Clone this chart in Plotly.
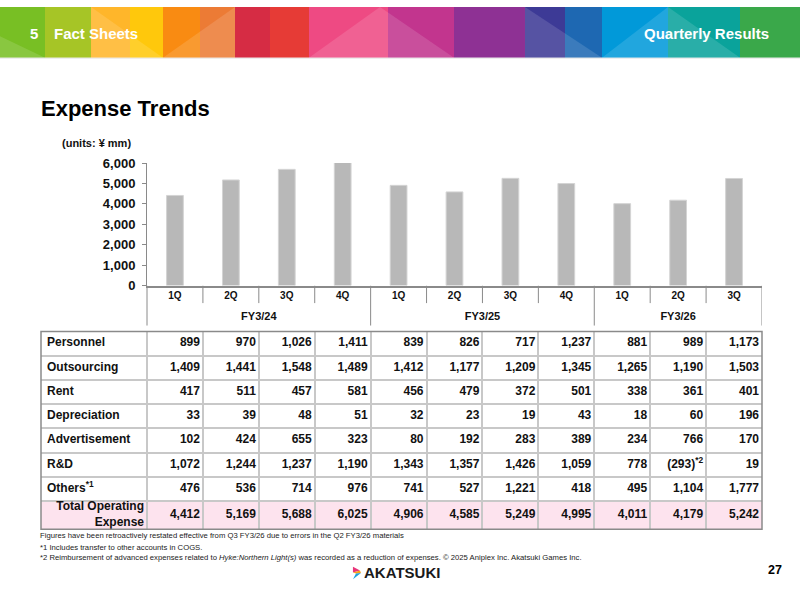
import plotly.graph_objects as go
import numpy as np

# ---------------- data ----------------
quarters = ["1Q", "2Q", "3Q", "4Q", "1Q", "2Q", "3Q", "4Q", "1Q", "2Q", "3Q"]
fiscal_years = ["FY3/24"] * 4 + ["FY3/25"] * 4 + ["FY3/26"] * 3

row_labels = ["Personnel", "Outsourcing", "Rent", "Depreciation",
              "Advertisement", "R&D", "Others<sup>*1</sup>"]
personnel = [899, 970, 1026, 1411, 839, 826, 717, 1237, 881, 989, 1173]
outsourcing = [1409, 1441, 1548, 1489, 1412, 1177, 1209, 1345, 1265, 1190, 1503]
rent = [417, 511, 457, 581, 456, 479, 372, 501, 338, 361, 401]
depreciation = [33, 39, 48, 51, 32, 23, 19, 43, 18, 60, 196]
advertisement = [102, 424, 655, 323, 80, 192, 283, 389, 234, 766, 170]
rnd = [1072, 1244, 1237, 1190, 1343, 1357, 1426, 1059, 778, -293, 19]
others = [476, 536, 714, 976, 741, 527, 1221, 418, 495, 1104, 1777]
total_label = "Total Operating<br>Expense"
total_opex = [4412, 5169, 5688, 6025, 4906, 4585, 5249, 4995, 4011, 4179, 5242]
cell_notes = {(5, 9): "*2"}  # (row, column) -> footnote mark

rows = [personnel, outsourcing, rent, depreciation, advertisement, rnd, others]

FONT = "Liberation Sans"
W, H = 800, 600


def px(x):
    return x / W


def py(y):
    return 1 - y / H


def fmt(v):
    return "({:,})".format(-v) if v < 0 else "{:,}".format(v)


fig = go.Figure()

# ---------------- bar chart ----------------
fig.add_trace(go.Bar(
    x=[fiscal_years, quarters], y=total_opex,
    marker=dict(color="#b8b8b8", line=dict(color="#d4d4d4", width=1)),
    hoverinfo="skip", showlegend=False,
))

# ---------------- table (text through x2/y2 scales) ----------------
ncol = len(quarters)
colw = (762 - 147) / ncol
label_w = 106 / colw  # label column width in column units
x_left = -0.5 - label_w
row_unit = 174 / 7
total_h = 29 / row_unit
y_max = 7 + total_h
pad_r = 3 / colw
pad_l = 6 / colw
head_h = 332.7 - 285.7

col_idx = np.arange(ncol)
col_x = col_idx + 0.5 - pad_r
tfont = dict(family=FONT, size=12, color="#111111", weight="bold")

for r, vals in enumerate(rows):
    txt = []
    for c, v in enumerate(vals):
        s = fmt(v)
        if (r, c) in cell_notes:
            s += "<sup>" + cell_notes[(r, c)] + "</sup>"
        txt.append(s)
    fig.add_trace(go.Scatter(
        x=col_x, y=[r + 0.5] * ncol, text=txt, mode="text",
        textposition="middle left", textfont=tfont,
        xaxis="x2", yaxis="y2", hoverinfo="skip", showlegend=False,
        cliponaxis=False,
    ))

fig.add_trace(go.Scatter(
    x=col_x, y=[7 + total_h / 2] * ncol, text=[fmt(v) for v in total_opex],
    mode="text", textposition="middle left", textfont=tfont,
    xaxis="x2", yaxis="y2", hoverinfo="skip", showlegend=False, cliponaxis=False,
))
fig.add_trace(go.Scatter(
    x=[x_left + pad_l] * len(row_labels), y=[r + 0.5 for r in range(len(row_labels))],
    text=row_labels, mode="text", textposition="middle right", textfont=tfont,
    xaxis="x2", yaxis="y2", hoverinfo="skip", showlegend=False, cliponaxis=False,
))
fig.add_trace(go.Scatter(
    x=[-0.5 - pad_r], y=[7 + total_h / 2], text=[total_label], mode="text",
    textposition="middle left", textfont=tfont,
    xaxis="x2", yaxis="y2", hoverinfo="skip", showlegend=False, cliponaxis=False,
))

# ---------------- category header (quarters / fiscal years) ----------------
fig.add_trace(go.Scatter(
    x=col_idx, y=[11.3] * ncol, text=quarters, mode="text", textposition="middle center",
    textfont=dict(family=FONT, size=10, color="#111111", weight="bold"),
    xaxis="x3", yaxis="y3", hoverinfo="skip", showlegend=False, cliponaxis=False,
))
fy_unique = list(dict.fromkeys(fiscal_years))
fy_pos = [float(np.mean([i for i, f in enumerate(fiscal_years) if f == u])) for u in fy_unique]
fig.add_trace(go.Scatter(
    x=fy_pos, y=[32.3] * len(fy_unique), text=fy_unique, mode="text",
    textposition="middle center",
    textfont=dict(family=FONT, size=11, color="#111111", weight="bold"),
    xaxis="x3", yaxis="y3", hoverinfo="skip", showlegend=False, cliponaxis=False,
))

shapes = []
for b in range(ncol + 1):
    edge = b - 0.5
    is_group = b == 0 or b == ncol or fiscal_years[b] != fiscal_years[b - 1]
    shapes.append(dict(type="line", xref="x3", yref="y3", x0=edge, x1=edge,
                       y0=0, y1=41 if is_group else 18,
                       line=dict(color="#8a8a8a", width=1)))

# pink total row
shapes.append(dict(type="rect", xref="x2", yref="y2", x0=x_left, x1=ncol - 0.5,
                   y0=7, y1=y_max, fillcolor="#fde3ee", line=dict(width=0), layer="below"))
# table outer border
shapes.append(dict(type="rect", xref="x2 domain", yref="y2 domain", x0=0, x1=1, y0=0, y1=1,
                   line=dict(color="#8a8a8a", width=1.5), layer="above"))

# ---------------- header banner ----------------
banner = [
    (0, 45, "#78bf24"), (45, 91, "#a6c526"), (91, 130, "#ffb62a"), (130, 163, "#ffc80c"),
    (163, 200, "#f98b12"), (200, 235, "#ec7b35"), (235, 270, "#d62c44"), (270, 309, "#e63b36"),
    (309, 388, "#ee4a83"), (388, 454, "#c2358e"), (454, 525, "#8e3194"), (525, 565, "#3d3a96"),
    (565, 602, "#1e68b2"), (602, 668, "#0199d9"), (668, 740, "#0aa39b"), (740, 800, "#3aa84a"),
]
for x0, x1, col in banner:
    shapes.append(dict(type="rect", xref="paper", yref="paper", x0=px(x0), x1=px(x1),
                       y0=py(52), y1=py(0), fillcolor=col, line=dict(width=0), layer="above"))
# diagonal facets
facets = [
    [(91, 0), (163, 52), (91, 52)], [(163, 52), (235, 0), (235, 52)],
    [(309, 52), (380, 0), (454, 52)], [(525, 0), (602, 52), (525, 52)],
    [(602, 52), (668, 0), (740, 52)], [(0, 30), (45, 52), (0, 52)],
]
for pts in facets:
    path = "M " + " L ".join("{:.4f},{:.4f}".format(px(a), py(b)) for a, b in pts) + " Z"
    shapes.append(dict(type="path", xref="paper", yref="paper", path=path,
                       fillcolor="rgba(255,255,255,0.13)", line=dict(width=0), layer="above"))
shapes.append(dict(type="line", xref="paper", yref="paper", x0=0, x1=1, y0=py(52.5), y1=py(52.5),
                   line=dict(color="#e6e6e6", width=1), layer="above"))

# logo icon
logo = [
    ([(353, 574), (360, 578), (353, 580)], "#e9357a"),
    ([(353, 580), (360, 578), (361, 580.5), (356, 581)], "#f7a21b"),
    ([(356, 581), (361, 580.5), (353, 587)], "#1da1dc"),
]
for pts, col in logo:
    path = "M " + " L ".join("{:.4f},{:.4f}".format(px(a), py(b)) for a, b in pts) + " Z"
    shapes.append(dict(type="path", xref="paper", yref="paper", path=path,
                       fillcolor=col, line=dict(width=0), layer="above"))

# ---------------- annotations ----------------
ann = []


def add_text(x, y, text, size, color="#111111", xanchor="left", bold=True, family=FONT):
    ann.append(dict(x=px(x), y=py(y), xref="paper", yref="paper", text=text, showarrow=False,
                    xanchor=xanchor, yanchor="middle",
                    font=dict(family=family, size=size, color=color,
                              weight="bold" if bold else "normal")))


add_text(28, 27, "5", 15, "white")
add_text(52, 27, "Fact Sheets", 15, "white")
add_text(771, 27, "Quarterly Results", 15, "white", xanchor="right")
add_text(39, 104, "Expense Trends", 22, "#000000")
add_text(60, 139, "(units: ¥ mm)", 11)
add_text(38, 542, "Figures have been retroactively restated effective from Q3 FY3/26 due to errors in the Q2 FY3/26 materials",
         7.7, "#222222", bold=False)
add_text(38, 554, "*1 Includes transfer to other accounts in COGS.", 7.7, "#222222", bold=False)
add_text(38, 565, "*2 Reimbursement of advanced expenses related to <i>Hyke:Northern Light(s)</i> was recorded as a reduction of expenses. © 2025 Aniplex Inc. Akatsuki Games Inc.",
         7.7, "#222222", bold=False)
add_text(362, 580.5, "AKATSUKI", 15, "#1a1a1a")
add_text(784, 577, "27", 12.5, "#000000", xanchor="right")

fig.update_layout(
    width=W, height=H, autosize=False,
    margin=dict(l=0, r=0, t=0, b=0),
    paper_bgcolor="white", plot_bgcolor="white",
    bargap=0.70,
    shapes=shapes, annotations=ann,
    xaxis=dict(
        domain=[px(147), px(762)], anchor="y", type="multicategory",
        showline=True, linecolor="#8a8a8a", linewidth=1.5,
        showticklabels=False, ticks="", showdividers=False,
        showgrid=False, zeroline=False, fixedrange=True,
    ),
    yaxis=dict(
        domain=[py(285.7), py(160)], anchor="x", range=[0, 6000], dtick=1000,
        tickformat=",", showline=True, linecolor="#8a8a8a", linewidth=1,
        ticks="outside", ticklen=4, tickcolor="#8a8a8a", ticklabelstandoff=4,
        tickfont=dict(family=FONT, size=13, color="#111111", weight="bold"),
        showgrid=False, zeroline=False, fixedrange=True,
    ),
    xaxis2=dict(
        domain=[px(41), px(762)], anchor="y2", range=[x_left, ncol - 0.5],
        tickvals=[c - 0.5 for c in range(ncol)], showticklabels=False, ticks="",
        showgrid=True, gridcolor="#c8c8c8", gridwidth=1.5, zeroline=False,
        showline=False, fixedrange=True,
    ),
    yaxis2=dict(
        domain=[py(535.7), py(332.7)], anchor="x2", range=[y_max, 0],
        tickvals=list(range(1, 8)), showticklabels=False, ticks="",
        showgrid=True, gridcolor="#c8c8c8", gridwidth=1.5, zeroline=False,
        showline=False, fixedrange=True,
    ),
    xaxis3=dict(
        domain=[px(41), px(762)], anchor="y3", range=[x_left, ncol - 0.5],
        visible=False, showgrid=False, fixedrange=True,
    ),
    yaxis3=dict(
        domain=[py(332.7), py(285.7)], anchor="x3",
        range=[head_h, 0], visible=False, showgrid=False, fixedrange=True,
    ),
)

fig.write_html("out.html")
